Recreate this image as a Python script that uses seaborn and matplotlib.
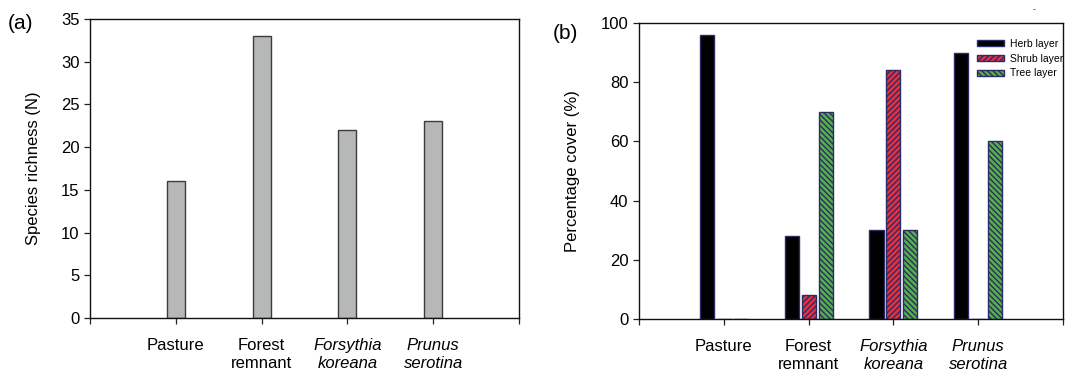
"""Riqueza de especies y cobertura por estrato en cuatro tipos de sitio."""

import matplotlib

matplotlib.use("Agg")

import matplotlib.pyplot as plt  # noqa: E402
import matplotlib.transforms as mtrans  # noqa: E402
import pandas as pd  # noqa: E402
import seaborn as sns  # noqa: E402

SITES = ["Pasture", "Forest\nremnant", "Forsythia\nkoreana", "Prunus\nserotina"]
ITALIC_SITES = [False, False, True, True]

# (a) riqueza de especies
RICHNESS = [16, 33, 22, 23]

# (b) cobertura por estrato (%)
LAYERS = ["Herb layer", "Shrub layer", "Tree layer"]
HERB = [96, 28, 30, 90]
SHRUB = [0, 8, 84, 0]
TREE = [0, 70, 30, 60]

LAYER_COLORS = ["#000000", "#e8303c", "#55b04a"]
LAYER_HATCH = [None, "//////", "\\\\\\\\\\\\"]
EDGE = "#2b2b66"

# desplazamiento horizontal (px) de las etiquetas del eje x, como en el original
LABEL_SHIFT_A = [-10, -3, -1, 9]
LABEL_SHIFT_B = [-4, 2, 10, 13]


def style_axis(ax, ymax, ystep, fs, shifts):
    ax.set_xlim(-1, 4)
    ax.set_ylim(0, ymax)
    ax.set_yticks(range(0, ymax + 1, ystep))
    ax.set_xticks(range(len(SITES)), SITES)
    ax.set_xticks([-1, 4], minor=True)
    fig = ax.figure
    for lbl, it, dx in zip(ax.get_xticklabels(), ITALIC_SITES, shifts):
        if it:
            lbl.set_fontstyle("italic")
        off = mtrans.ScaledTranslation(dx / 100, 0, fig.dpi_scale_trans)
        lbl.set_transform(lbl.get_transform() + off)
    ax.tick_params(axis="both", which="both", direction="out", length=4.5,
                   width=0.9, labelsize=fs, color="#222222",
                   bottom=True, left=True, top=False, right=False)
    ax.tick_params(axis="x", which="major", pad=10)
    ax.tick_params(axis="y", pad=3)
    for sp in ax.spines.values():
        sp.set_visible(True)
        sp.set_linewidth(1.0)
        sp.set_color("#111111")
    ax.set_xlabel("")


def main():
    sns.set_theme(style="white")
    plt.rcParams["font.family"] = ["Liberation Sans", "DejaVu Sans"]
    plt.rcParams["hatch.linewidth"] = 1.0
    for k in ("text.color", "axes.labelcolor", "xtick.color", "ytick.color"):
        plt.rcParams[k] = "black"

    fs = 12
    fig = plt.figure(figsize=(10.71, 3.73), dpi=100)
    ax1 = fig.add_axes([0.084, 0.1475, 0.4006, 0.8016])
    ax2 = fig.add_axes([0.5966, 0.1448, 0.396, 0.7936])

    # (a)
    d1 = pd.DataFrame({"site": SITES, "n": RICHNESS})
    sns.barplot(d1, x="site", y="n", ax=ax1, color="#b5b8b7", saturation=1,
                width=0.21, edgecolor="#3c3c3c", linewidth=1.0)
    style_axis(ax1, 35, 5, fs, LABEL_SHIFT_A)
    ax1.set_ylabel("Species richness (N)", fontsize=fs, labelpad=14)

    # (b)
    d2 = pd.DataFrame({
        "site": SITES * 3,
        "layer": sum([[l] * len(SITES) for l in LAYERS], []),
        "cover": HERB + SHRUB + TREE,
    })
    sns.barplot(d2, x="site", y="cover", hue="layer", hue_order=LAYERS, ax=ax2,
                palette=LAYER_COLORS, saturation=1, width=0.6, gap=0.17,
                edgecolor=EDGE, linewidth=1.0, legend=False)
    for cont, h in zip(ax2.containers, LAYER_HATCH):
        if h:
            for p in cont:
                p.set_hatch(h)
    ax2.legend(handles=list(ax2.containers), labels=LAYERS, loc="upper right",
               bbox_to_anchor=(1.014, 0.967), frameon=False, fontsize=7.5,
               handlelength=2.6, handleheight=0.55, handletextpad=0.55,
               labelspacing=0.45, borderaxespad=0.2)
    style_axis(ax2, 100, 20, fs, LABEL_SHIFT_B)
    ax2.set_ylabel("Percentage cover (%)", fontsize=fs, labelpad=15)

    fig.text(0.007, 0.938, "(a)", fontsize=15, va="center", ha="left")
    fig.text(0.516, 0.91, "(b)", fontsize=15, va="center", ha="left")
    fig.text(0.965, 0.975, "-", fontsize=6, va="center", ha="center")

    fig.savefig("out.png", dpi=100)


if __name__ == "__main__":
    main()
